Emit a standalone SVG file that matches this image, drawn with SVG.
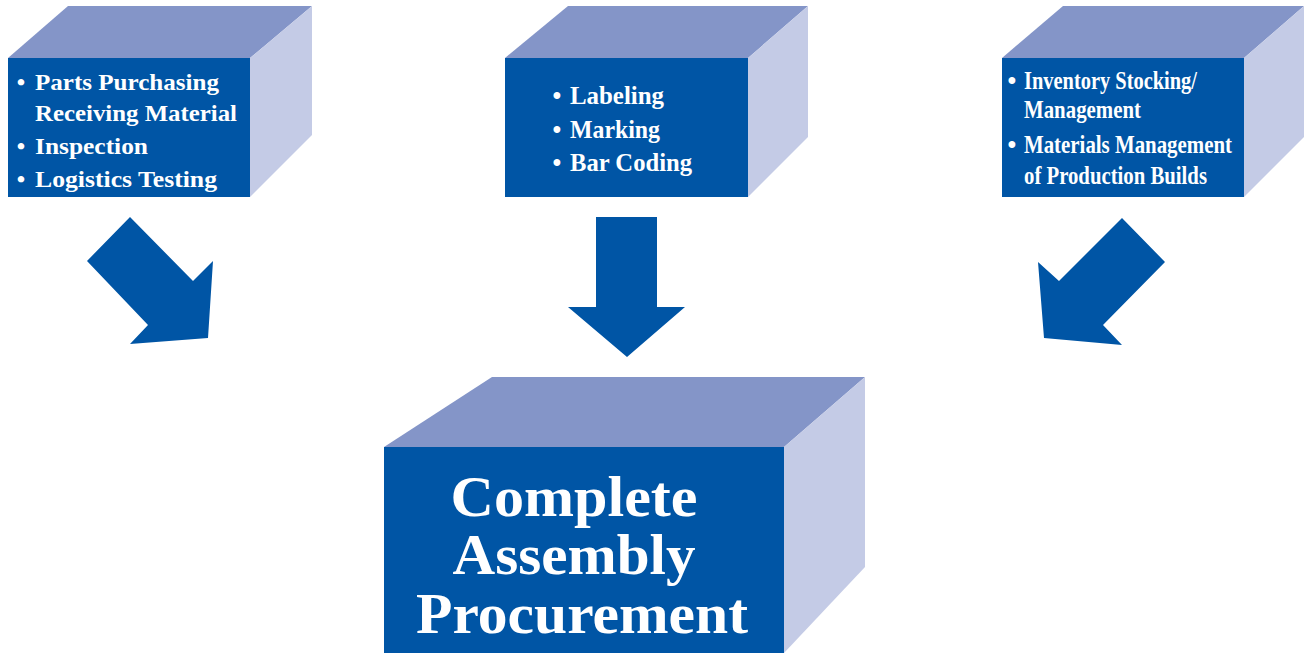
<svg xmlns="http://www.w3.org/2000/svg" width="1304" height="653" viewBox="0 0 1304 653">
<style>
.front{fill:#0055A5}
.top{fill:#8495C8}
.side{fill:#C4CBE6}
.arrow{fill:#0055A5}
.t{font-family:"Liberation Serif","DejaVu Serif",serif;font-weight:bold;font-size:24px;fill:#ffffff}
.t2{font-size:25px}
.big{font-family:"Liberation Serif","DejaVu Serif",serif;font-weight:bold;font-size:57px;fill:#ffffff;text-anchor:middle}
.b{text-anchor:middle}
</style>
<rect width="1304" height="653" fill="#ffffff"/>
<g id="box1">
<polygon class="top" points="8,58 68,6 312,6 250,58"/>
<polygon class="side" points="250,58 312,6 312,135 250,197"/>
<rect class="front" x="8" y="58" width="242" height="139"/>
<text class="t b" x="21" y="90">•</text>
<text class="t" x="35" y="90" textLength="184" lengthAdjust="spacingAndGlyphs">Parts Purchasing</text>
<text class="t" x="35" y="121" textLength="202" lengthAdjust="spacingAndGlyphs">Receiving Material</text>
<text class="t b" x="21" y="154">•</text>
<text class="t" x="35" y="154" textLength="113" lengthAdjust="spacingAndGlyphs">Inspection</text>
<text class="t b" x="21" y="187">•</text>
<text class="t" x="35" y="187" textLength="182" lengthAdjust="spacingAndGlyphs">Logistics Testing</text>
</g>
<g id="box2">
<polygon class="top" points="505,58 568,6 808,6 748,58"/>
<polygon class="side" points="748,58 808,6 808,137 748,197"/>
<rect class="front" x="505" y="58" width="243" height="139"/>
<text class="t t2 b" x="557" y="104">•</text>
<text class="t t2" x="570" y="104" textLength="94" lengthAdjust="spacingAndGlyphs">Labeling</text>
<text class="t t2 b" x="557" y="138">•</text>
<text class="t t2" x="570" y="138" textLength="90" lengthAdjust="spacingAndGlyphs">Marking</text>
<text class="t t2 b" x="557" y="171">•</text>
<text class="t t2" x="570" y="171" textLength="122" lengthAdjust="spacingAndGlyphs">Bar Coding</text>
</g>
<g id="box3">
<polygon class="top" points="1002,58 1063,6 1304,6 1244,58"/>
<polygon class="side" points="1244,58 1304,6 1304,137 1244,197"/>
<rect class="front" x="1002" y="58" width="242" height="139"/>
<text class="t t2 b" x="1012" y="89">•</text>
<text class="t t2" x="1024" y="89" textLength="173" lengthAdjust="spacingAndGlyphs">Inventory Stocking/</text>
<text class="t t2" x="1024" y="118" textLength="117" lengthAdjust="spacingAndGlyphs">Management</text>
<text class="t t2 b" x="1012" y="153">•</text>
<text class="t t2" x="1024" y="153" textLength="208" lengthAdjust="spacingAndGlyphs">Materials Management</text>
<text class="t t2" x="1024" y="184" textLength="183" lengthAdjust="spacingAndGlyphs">of Production Builds</text>
</g>
<g id="box4">
<polygon class="top" points="384,447 492,377 865,377 784,447"/>
<polygon class="side" points="784,447 865,377 865,567 784,653"/>
<rect class="front" x="384" y="447" width="400" height="206"/>
<text class="big" x="574" y="516" textLength="247" lengthAdjust="spacingAndGlyphs">Complete</text>
<text class="big" x="574" y="574" textLength="243" lengthAdjust="spacingAndGlyphs">Assembly</text>
<text class="big" x="582" y="633" textLength="332" lengthAdjust="spacingAndGlyphs">Procurement</text>
</g>
<g id="connectors">
<polygon class="arrow" points="130,217 193,281 213,261 208,338 130,344 148,325 87,261"/>
<polygon class="arrow" points="596,217 657,217 657,307 685,307 627,357 568,307 596,307"/>
<polygon class="arrow" points="1122,218 1165,262 1103,325 1122,345 1044,338 1038,262 1059,281"/>
</g>
</svg>
